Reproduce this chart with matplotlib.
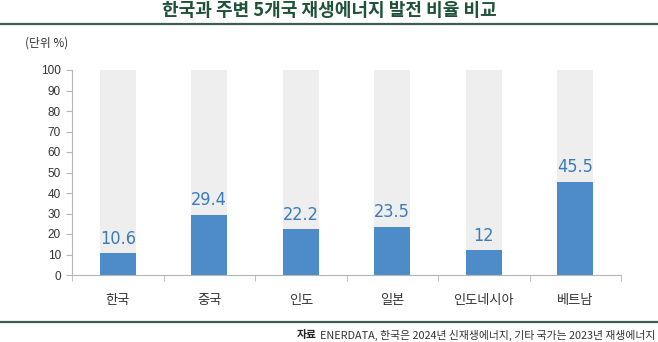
import matplotlib.pyplot as plt
import numpy as np
from matplotlib.lines import Line2D
from matplotlib import font_manager

plt.rcParams['font.family'] = ['Noto Sans CJK KR', 'DejaVu Sans']

# 국가별 재생에너지 발전 비율 (%)
countries = ["한국", "중국", "인도", "일본", "인도네시아", "베트남"]
shares = [10.6, 29.4, 22.2, 23.5, 12, 45.5]
value_labels = ["10.6", "29.4", "22.2", "23.5", "12", "45.5"]
y_ticks = [0, 10, 20, 30, 40, 50, 60, 70, 80, 90, 100]

title_color = "#1f5238"
rule_color = "#3f5c50"
bar_color = "#4d8cc8"
back_color = "#eeeeee"
label_color = "#3b7bb9"
axis_color = "#b5b5b5"

# 값 라벨용 좁은 글꼴 찾기
narrow = None
for key in ["LiberationSansNarrow-Regular", "DejaVuSansCondensed.ttf", "Condensed", "Narrow"]:
    hits = [f for f in font_manager.findSystemFonts() if key in f and "Bold" not in f and "Oblique" not in f and "Italic" not in f]
    if hits:
        narrow = font_manager.FontProperties(fname=sorted(hits)[0], size=13)
        break
if narrow is None:
    narrow = font_manager.FontProperties(family="Roboto", size=12)

W, H = 658, 342
fig = plt.figure(figsize=(W / 100, H / 100), dpi=100)
ax = fig.add_axes([72 / W, 1 - 275 / H, (621 - 72) / W, (275 - 70) / H])

x = np.arange(len(countries))
bar_w = 0.39

# 회색 배경 막대(100%) + 파란 값 막대
ax.bar(x, [100] * len(x), width=bar_w, color=back_color, zorder=1)
ax.bar(x, shares, width=bar_w, color=bar_color, zorder=2)

for xi, v, lab in zip(x, shares, value_labels):
    ax.annotate(lab, (xi, v), xytext=(0, 4), textcoords="offset points",
                ha="center", va="bottom", color=label_color,
                fontproperties=narrow, zorder=3)

ax.set_xlim(-0.5, len(x) - 0.5)
ax.set_ylim(0, 100)
ax.set_yticks(y_ticks)
ax.set_yticklabels([str(t) for t in y_ticks], fontsize=8.5, color="#333333",
                   family=["Liberation Sans", "DejaVu Sans"])
ax.set_xticks(x)
ax.set_xticklabels(countries, fontsize=9.5, color="#333333")
ax.tick_params(axis="x", length=0, pad=14)
ax.set_xticks(np.arange(-0.5, len(x), 1.0), minor=True)
ax.tick_params(axis="x", which="minor", length=4, color=axis_color, direction="out")
ax.tick_params(axis="y", length=4, color=axis_color, pad=4)

for side in ["top", "right"]:
    ax.spines[side].set_visible(False)
for side in ["left", "bottom"]:
    ax.spines[side].set_color(axis_color)
    ax.spines[side].set_linewidth(0.8)

# 제목과 구분선
fig.text(0.5, 1 - 10 / H, "한국과 주변 5개국 재생에너지 발전 비율 비교", ha="center", va="center",
         fontsize=13, fontweight="bold", color=title_color)
fig.add_artist(Line2D([0, 1], [1 - 24 / H, 1 - 24 / H], color=rule_color, linewidth=1.6))
fig.add_artist(Line2D([0, 1], [1 - 322 / H, 1 - 322 / H], color=rule_color, linewidth=1.6))

fig.text(25 / W, 1 - 43 / H, "(단위 %)", ha="left", va="center", fontsize=8.5, color="#333333")

fig.text(655 / W, 1 - 335 / H, "ENERDATA, 한국은 2024년 신재생에너지, 기타 국가는 2023년 재생에너지",
         ha="right", va="center", fontsize=7.8, color="#333333")
src = fig.texts[-1]
fig.canvas.draw()
bb = src.get_window_extent()
fig.text(bb.x0 / W - 3 / W, 1 - 335 / H, "자료", ha="right", va="center",
         fontsize=7.8, fontweight="bold", color="#222222")

fig.savefig("out.png", dpi=100)
